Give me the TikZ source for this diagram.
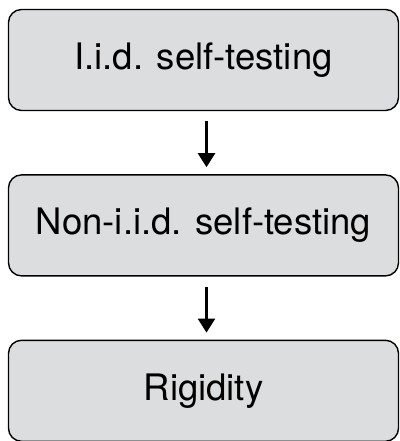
\documentclass[tikz,border=0pt]{standalone}
\usepackage{fontspec}
\setmainfont{TeX Gyre Heros}
\usetikzlibrary{positioning,arrows.meta}

\begin{document}
\begin{tikzpicture}[x=1pt,y=1pt,
    stage/.style={draw=black, line width=1.4pt, rounded corners=13pt, fill=boxgray,
      minimum width=390pt, minimum height=101pt, inner sep=0pt, font=\fontsize{36.5}{42}\selectfont},
    implies/.style={line width=2.4pt, -{Triangle[length=14pt,width=17pt]},
      shorten <=10pt, shorten >=7pt}]
          \definecolor{boxgray}{RGB}{220,221,223}
          \useasboundingbox (0,0) rectangle (399,-441);
          
          % the three stages
          \node[stage] (iid) at (203.5,-60) {I.i.d. self-testing};
          \node[stage, below=63pt of iid] (noniid) {Non-i.i.d. self-testing};
          \node[stage, below=63pt of noniid] (rigid) {Rigidity};
          
          % implications
          \draw[implies] ([xshift=3pt]iid.south) -- ([xshift=3pt]noniid.north);
          \draw[implies] ([xshift=3pt]noniid.south) -- ([xshift=3pt]rigid.north);
        \end{tikzpicture}
\end{document}
